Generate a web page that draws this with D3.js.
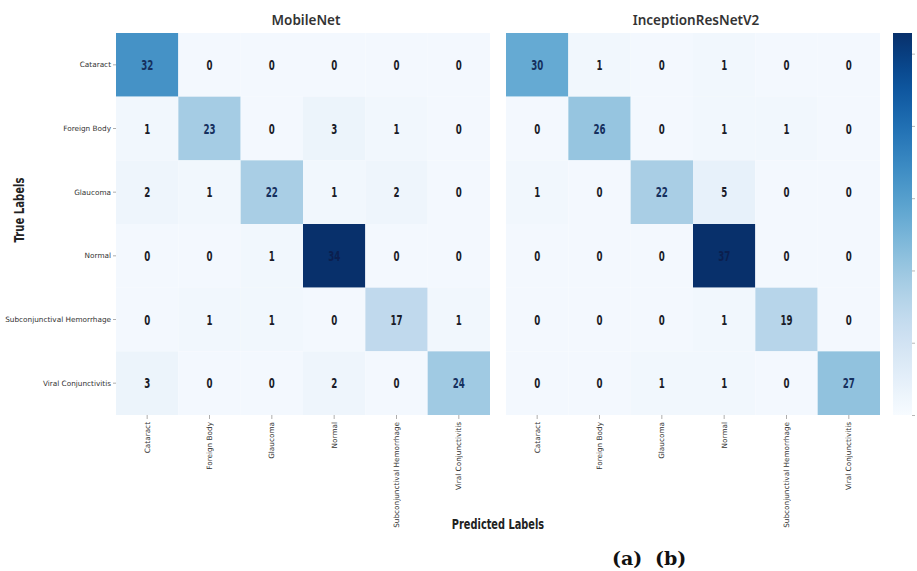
<!DOCTYPE html>
<html>
<head>
<meta charset="utf-8">
<script src="https://cdn.jsdelivr.net/npm/d3@7"></script>
<style>
  html, body { margin: 0; padding: 0; background: #ffffff; }
  svg { display: block; }
</style>
</head>
<body>
<svg id="chart" width="917" height="571"></svg>
<script>
// ---------------- data ----------------
const categories = ["Cataract", "Foreign Body", "Glaucoma", "Normal", "Subconjunctival Hemorrhage", "Viral Conjunctivitis"];
const titles = ["MobileNet", "InceptionResNetV2"];
const mobileNetValues = [
  [32, 0, 0, 0, 0, 0],
  [1, 23, 0, 3, 1, 0],
  [2, 1, 22, 1, 2, 0],
  [0, 0, 1, 34, 0, 0],
  [0, 1, 1, 0, 17, 1],
  [3, 0, 0, 2, 0, 24]
];
const inceptionValues = [
  [30, 1, 0, 1, 0, 0],
  [0, 26, 0, 1, 1, 0],
  [1, 0, 22, 5, 0, 0],
  [0, 0, 0, 37, 0, 0],
  [0, 0, 0, 1, 19, 0],
  [0, 0, 1, 1, 0, 27]
];
const colorbarTicks = [0, 7, 14, 21, 28, 35];
const subLabels = ["(a)", "(b)"];

// ---------------- layout ----------------
const svg = d3.select("#chart");
const sans = "'DejaVu Sans', 'Noto Sans', sans-serif";
const yTop = 33, yBottom = 415;
const panels = [
  { title: titles[0], values: mobileNetValues, x0: 116, x1: 490, showY: true },
  { title: titles[1], values: inceptionValues, x0: 506, x1: 880, showY: false }
];

const vmax = 37;
// colour mapping
const tScale = d3.scaleLinear()
  .domain([0, 5, 20, 28, 32, 33.5, vmax])
  .range([0.02, 0.08, 0.31, 0.42, 0.62, 1, 1])
  .clamp(true);
const color = v => d3.interpolateBlues(tScale(v));

const yScale = d3.scaleBand().domain(categories).range([yTop, yBottom]);

panels.forEach(p => {
  const xScale = d3.scaleBand().domain(categories).range([p.x0, p.x1]);
  const g = svg.append("g");
  const cells = [];
  p.values.forEach((row, i) => row.forEach((v, j) => cells.push({ r: categories[i], c: categories[j], v })));

  g.selectAll("rect.cell").data(cells).join("rect")
    .attr("class", "cell")
    .attr("x", d => xScale(d.c))
    .attr("y", d => yScale(d.r))
    .attr("width", xScale.bandwidth())
    .attr("height", yScale.bandwidth())
    .attr("fill", d => color(d.v));

  g.selectAll("text.val").data(cells).join("text")
    .attr("class", "val")
    .attr("transform", d => `translate(${xScale(d.c) + xScale.bandwidth() / 2},${yScale(d.r) + yScale.bandwidth() / 2}) scale(0.62,1)`)
    .attr("dy", "0.36em")
    .attr("text-anchor", "middle")
    .attr("font-family", sans)
    .attr("font-weight", "bold")
    .attr("font-size", 14)
    .attr("fill", d => d.v > 33 ? "#0b1f4f" : (d.v >= 20 ? "#15305e" : "#1a1c28"))
    .text(d => d.v);

  // title
  svg.append("text")
    .attr("x", (p.x0 + p.x1) / 2 + 3)
    .attr("y", 25)
    .attr("text-anchor", "middle")
    .attr("font-family", "'Noto Sans', 'DejaVu Sans', sans-serif")
    .attr("font-weight", 600)
    .attr("font-size", 13.5)
    .attr("fill", "#333")
    .text(p.title);

  // x axis
  const xAxis = svg.append("g")
    .attr("transform", `translate(0,${yBottom})`)
    .call(d3.axisBottom(xScale).tickSize(4).tickPadding(3));
  xAxis.select(".domain").remove();
  xAxis.selectAll(".tick line").attr("stroke", "#777").attr("stroke-width", 0.6);
  xAxis.selectAll(".tick text")
    .attr("font-family", sans)
    .attr("font-size", 7.3)
    .attr("fill", "#333")
    .attr("text-anchor", "end")
    .attr("transform", "rotate(-90)")
    .attr("x", -7)
    .attr("y", 0)
    .attr("dy", "0.32em");

  if (p.showY) {
    const yAxis = svg.append("g")
      .attr("transform", `translate(${p.x0},0)`)
      .call(d3.axisLeft(yScale).tickSize(3).tickPadding(2));
    yAxis.select(".domain").remove();
    yAxis.selectAll(".tick line").attr("stroke", "#777").attr("stroke-width", 0.6);
    yAxis.selectAll(".tick text")
      .attr("font-family", sans)
      .attr("font-size", 7.3)
      .attr("fill", "#333");
  }
});

// axis titles
svg.append("text")
  .attr("transform", "translate(24,210) rotate(-90) scale(0.72,1)")
  .attr("text-anchor", "middle")
  .attr("font-family", sans)
  .attr("font-weight", "bold")
  .attr("font-size", 14)
  .attr("fill", "#222")
  .text("True Labels");

svg.append("text")
  .attr("transform", "translate(498,529) scale(0.7,1)")
  .attr("text-anchor", "middle")
  .attr("font-family", sans)
  .attr("font-weight", "bold")
  .attr("font-size", 14)
  .attr("fill", "#222")
  .text("Predicted Labels");

// colorbar
const cbX = 893, cbW = 19;
const defs = svg.append("defs");
const grad = defs.append("linearGradient").attr("id", "cbgrad")
  .attr("x1", 0).attr("y1", 1).attr("x2", 0).attr("y2", 0);
d3.range(0, 1.0001, 0.05).forEach(t => {
  grad.append("stop").attr("offset", t).attr("stop-color", d3.interpolateBlues(t));
});
svg.append("rect")
  .attr("x", cbX).attr("y", yTop)
  .attr("width", cbW).attr("height", yBottom - yTop)
  .attr("fill", "url(#cbgrad)");
const cbScale = d3.scaleLinear().domain([0, vmax]).range([yBottom, yTop]);
const cbAxis = svg.append("g")
  .attr("transform", `translate(${cbX + cbW},0)`)
  .call(d3.axisRight(cbScale).tickValues(colorbarTicks).tickSize(3).tickFormat(""));
cbAxis.select(".domain").remove();
cbAxis.selectAll(".tick line").attr("stroke", "#888").attr("stroke-width", 0.6);

// sub-figure labels
const subX = d3.scalePoint().domain(subLabels).range([612, 655]);
svg.selectAll("text.sub").data(subLabels).join("text")
  .attr("class", "sub")
  .attr("x", d => subX(d))
  .attr("y", 565)
  .attr("font-family", "'DejaVu Serif', 'Liberation Serif', serif")
  .attr("font-weight", "bold")
  .attr("font-size", 19)
  .attr("fill", "#111")
  .text(d => d);
</script>
</body>
</html>
